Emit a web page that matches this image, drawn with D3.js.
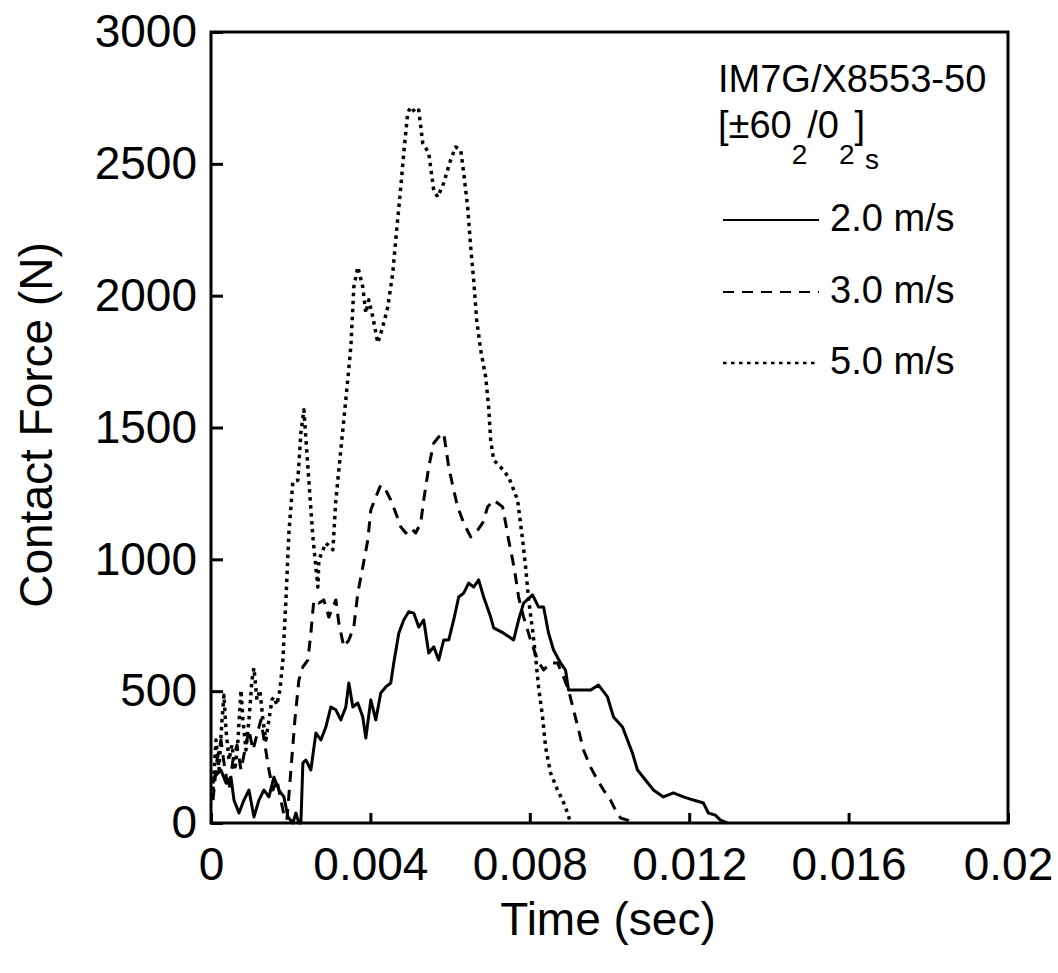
<!DOCTYPE html>
<html>
<head>
<meta charset="utf-8">
<script src="https://cdn.jsdelivr.net/npm/d3@7"></script>
<style>
  body { margin: 0; background: #fff; }
  text { font-family: "Liberation Sans", Arial, Helvetica, sans-serif; fill: #000; }
</style>
</head>
<body>
<svg id="chart" width="1058" height="973"></svg>
<script>
// tick values and labels
const xTicks = [0, 0.004, 0.008, 0.012, 0.016, 0.02];
const xTickLabels = ['0', '0.004', '0.008', '0.012', '0.016', '0.02'];
const yTicks = [0, 500, 1000, 1500, 2000, 2500, 3000];

const seriesNames = ['2.0 m/s', '3.0 m/s', '5.0 m/s'];

// 2.0 m/s  [time (s), force (N)]
const force2 = [
  [0.00005, 150], [0.000075, 174], [0.00025, 201], [0.000376, 152], [0.000501, 174], [0.000576, 87],
  [0.000702, 38], [0.000827, 87], [0.000952, 125], [0.001078, 23], [0.001203, 87], [0.001328, 125],
  [0.001454, 99], [0.001579, 174], [0.001704, 125], [0.00183, 99], [0.00193, 23], [0.002055, 0],
  [0.00213, 38], [0.002205, 0], [0.002256, 0], [0.002306, 228], [0.002381, 239], [0.002506, 201],
  [0.002632, 341], [0.002757, 315], [0.002882, 364], [0.003008, 440], [0.003133, 429], [0.003258, 391],
  [0.003383, 440], [0.003459, 531], [0.003559, 440], [0.003684, 455], [0.003809, 402], [0.003885, 322],
  [0.00401, 467], [0.004135, 391], [0.00426, 493], [0.004386, 516], [0.004511, 531], [0.004586, 607],
  [0.004712, 720], [0.004837, 770], [0.004962, 801], [0.005088, 796], [0.005213, 743], [0.005338, 770],
  [0.005464, 645], [0.005589, 668], [0.005714, 618], [0.005839, 694], [0.005965, 694], [0.00609, 770],
  [0.006216, 857], [0.006341, 872], [0.006466, 910], [0.006591, 895], [0.006717, 922], [0.006842, 857],
  [0.007018, 781], [0.007093, 740], [0.007343, 720], [0.007594, 694], [0.007719, 770], [0.007845, 834],
  [0.00807, 865], [0.00822, 819], [0.008346, 819], [0.008471, 720], [0.008596, 656], [0.008772, 607],
  [0.008897, 580], [0.008972, 504], [0.009198, 504], [0.009348, 504], [0.009524, 504], [0.009724, 523],
  [0.00995, 478], [0.0101, 402], [0.010326, 364], [0.010451, 315], [0.010576, 265], [0.010702, 201],
  [0.010902, 163], [0.011103, 125], [0.011353, 99], [0.011604, 114], [0.011855, 99], [0.012105, 87],
  [0.012356, 76], [0.012481, 38], [0.012657, 30], [0.012782, 11], [0.012957, 0]
];

// 3.0 m/s
const force3 = [
  [0.00005, 87], [0.00015, 239], [0.00025, 315], [0.000351, 201], [0.000451, 125], [0.000551, 239],
  [0.000652, 296], [0.000752, 201], [0.000852, 277], [0.000952, 353], [0.001053, 277], [0.001153, 334],
  [0.001253, 391], [0.001353, 296], [0.001454, 201], [0.001554, 125], [0.001654, 163], [0.001754, 87],
  [0.00183, 30], [0.001905, 11], [0.002005, 201], [0.002105, 391], [0.002205, 542], [0.002306, 592],
  [0.002431, 618], [0.002506, 720], [0.002581, 846], [0.002707, 834], [0.002832, 846], [0.002957, 781],
  [0.003133, 846], [0.003208, 758], [0.003333, 668], [0.003459, 694], [0.003584, 743], [0.003684, 872],
  [0.003809, 971], [0.003935, 1073], [0.00401, 1187], [0.004135, 1236], [0.00426, 1282], [0.004386, 1263],
  [0.004511, 1225], [0.004636, 1176], [0.004762, 1123], [0.004887, 1100], [0.005012, 1119], [0.005138, 1100],
  [0.005263, 1138], [0.005338, 1225], [0.005464, 1350], [0.005589, 1441], [0.005714, 1464], [0.005839, 1479],
  [0.005965, 1350], [0.00609, 1263], [0.00619, 1199], [0.006341, 1138], [0.006516, 1085], [0.006692, 1111],
  [0.006817, 1138], [0.006942, 1199], [0.007093, 1225], [0.007318, 1199], [0.007393, 1138], [0.007469, 1073],
  [0.007569, 998], [0.007644, 933], [0.007719, 857], [0.007845, 781], [0.00802, 694], [0.008195, 618],
  [0.008346, 580], [0.008521, 607], [0.008697, 607], [0.008847, 554], [0.008972, 504], [0.009098, 429],
  [0.009223, 353], [0.009348, 277], [0.009524, 212], [0.009699, 163], [0.00985, 125], [0.010025, 87],
  [0.01015, 49], [0.010276, 19], [0.010451, 11], [0.010576, 0]
];

// 5.0 m/s
const force5 = [
  [0.00005, 125], [0.000125, 315], [0.0002, 201], [0.000276, 390], [0.000326, 485], [0.000376, 353],
  [0.000451, 239], [0.000526, 296], [0.000601, 201], [0.000677, 315], [0.000752, 504], [0.000802, 391],
  [0.000877, 277], [0.000952, 391], [0.001028, 542], [0.001078, 588], [0.001153, 467], [0.001228, 504],
  [0.001303, 391], [0.001378, 315], [0.001454, 391], [0.001529, 467], [0.001579, 478], [0.001654, 448],
  [0.001729, 504], [0.001804, 618], [0.00188, 846], [0.001955, 1100], [0.002055, 1295], [0.00218, 1300],
  [0.002256, 1480], [0.002331, 1567], [0.002431, 1350], [0.002556, 1085], [0.002682, 895], [0.002707, 998],
  [0.002882, 1062], [0.003058, 1036], [0.003133, 1225], [0.003258, 1415], [0.003383, 1605], [0.003509, 1805],
  [0.003584, 2033], [0.003684, 2109], [0.003809, 2033], [0.003885, 1934], [0.00396, 1984], [0.00406, 1920],
  [0.004185, 1821], [0.00431, 1881], [0.004436, 1957], [0.004561, 2086], [0.004636, 2211], [0.004762, 2412],
  [0.004837, 2541], [0.004937, 2693], [0.005012, 2716], [0.005138, 2693], [0.005213, 2704], [0.005313, 2579],
  [0.005464, 2541], [0.005589, 2401], [0.005689, 2374], [0.005839, 2427], [0.006015, 2515], [0.00614, 2564],
  [0.006266, 2553], [0.006341, 2465], [0.006441, 2336], [0.006516, 2185], [0.006591, 2060], [0.006667, 1908],
  [0.006767, 1794], [0.006892, 1692], [0.006967, 1578], [0.007018, 1453], [0.007093, 1377], [0.007268, 1350],
  [0.007469, 1312], [0.007694, 1225], [0.00782, 1073], [0.007895, 971], [0.00797, 846], [0.00807, 732],
  [0.008145, 630], [0.00822, 516], [0.00832, 402], [0.008396, 288], [0.008521, 190], [0.008697, 125],
  [0.008822, 87], [0.008947, 38], [0.009023, 0]
];

const svg = d3.select('#chart');
const plotLeft = 211, plotRight = 1008, plotTop = 32, plotBottom = 823;

const x = d3.scaleLinear().domain([0, 0.02]).range([plotLeft, plotRight]);
const y = d3.scaleLinear().domain([0, 3000]).range([plotBottom, plotTop]);

const styles = [
  { dash: null, width: 3 },
  { dash: '11 8', width: 3 },
  { dash: '3.5 4.5', width: 3.5 }
];

const line = d3.line()
  .x(d => x(d[0]))
  .y(d => y(d[1]));

// curves
[force2, force3, force5].forEach((data, i) => {
  svg.append('path')
    .datum(data)
    .attr('fill', 'none')
    .attr('stroke', '#000')
    .attr('stroke-width', styles[i].width)
    .attr('stroke-linejoin', 'round')
    .attr('stroke-dasharray', styles[i].dash)
    .attr('d', line);
});

// axes, ticks pointing inside
const yAxis = svg.append('g')
  .attr('transform', 'translate(' + plotLeft + ',0)')
  .call(d3.axisLeft(y).tickValues(yTicks).tickSizeInner(-12).tickSizeOuter(0).tickPadding(14).tickFormat(d3.format('d')));

const xAxis = svg.append('g')
  .attr('transform', 'translate(0,' + plotBottom + ')')
  .call(d3.axisBottom(x).tickValues(xTicks).tickSizeInner(-10).tickSizeOuter(0).tickPadding(24)
    .tickFormat((d, i) => xTickLabels[i]));

[yAxis, xAxis].forEach(ax => {
  ax.select('.domain').remove();
  ax.selectAll('line').attr('stroke', '#000').attr('stroke-width', 3);
  ax.selectAll('text')
    .style('font-family', '"Liberation Sans", Arial, sans-serif')
    .style('font-size', '46px')
    .attr('fill', '#000');
});

// frame
svg.append('rect')
  .attr('x', plotLeft)
  .attr('y', plotTop)
  .attr('width', plotRight - plotLeft)
  .attr('height', plotBottom - plotTop)
  .attr('fill', 'none')
  .attr('stroke', '#000')
  .attr('stroke-width', 3);

// axis titles
svg.append('text')
  .attr('x', 608)
  .attr('y', 935)
  .attr('text-anchor', 'middle')
  .style('font-size', '46px')
  .text('Time (sec)');

svg.append('text')
  .attr('transform', 'translate(52,425) rotate(-90)')
  .attr('text-anchor', 'middle')
  .style('font-size', '46px')
  .text('Contact Force (N)');

// legend
svg.append('text')
  .attr('x', 718)
  .attr('y', 92)
  .style('font-size', '38px')
  .text('IM7G/X8553-50');

const layup = svg.append('text')
  .attr('x', 718)
  .attr('y', 138)
  .style('font-size', '38px');
layup.append('tspan').text('[±60');
layup.append('tspan').attr('dy', 26).style('font-size', '28px').text('2');
layup.append('tspan').attr('dy', -26).text('/0');
layup.append('tspan').attr('dy', 26).style('font-size', '28px').text('2');
layup.append('tspan').attr('dy', -26).text(']');
layup.append('tspan').attr('dy', 31).style('font-size', '28px').text('s');

const legendY = [220, 292, 363];
seriesNames.forEach((name, i) => {
  svg.append('line')
    .attr('x1', 723)
    .attr('x2', 819)
    .attr('y1', legendY[i])
    .attr('y2', legendY[i])
    .attr('stroke', '#000')
    .attr('stroke-width', i === 2 ? 2.5 : 2)
    .attr('stroke-dasharray', styles[i].dash);
  svg.append('text')
    .attr('x', 830)
    .attr('y', legendY[i] + 11)
    .style('font-size', '38px')
    .text(name);
});
</script>
</body>
</html>
